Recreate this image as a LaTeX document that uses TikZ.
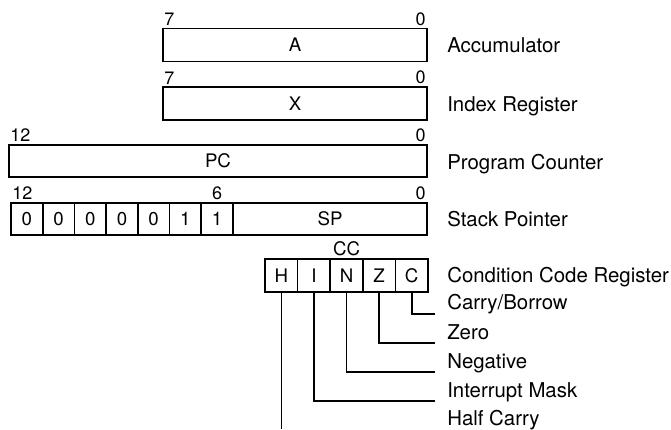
\documentclass[tikz,border=0pt]{standalone}
\usepackage{fontspec}
\setmainfont{TeX Gyre Heros}
\usepackage{tikz}

\tikzset{
  reg/.style={draw,line width=1.2pt,inner sep=0pt,minimum height=24.5pt,
    font=\fontsize{14}{14}\selectfont},
  cell/.style={reg,minimum width=23.8pt},
  bit/.style={inner sep=1.5pt,font=\fontsize{13.5}{13.5}\selectfont},
  desc/.style={anchor=base west,inner sep=0pt,font=\fontsize{15.3}{15.3}\selectfont},
  lead/.style={line width=1.2pt}
}

\begin{document}
\begin{tikzpicture}[x=0.75pt,y=-0.75pt]
  \useasboundingbox (0,0) rectangle (671,429);
  % Accumulator
  \node[reg,minimum width=198pt] (A) at (295,45) {A};
  \node[bit,anchor=south west] (A7) at (A.north west) {7};
  \node[bit,anchor=south east] (A0) at (A.north east) {0};
  \node[desc] (accu) at (447,52.5) {Accumulator};
  % Index register
  \node[reg,minimum width=198pt] (X) at (295,103.5) {X};
  \node[bit,anchor=south west] (X7) at (X.north west) {7};
  \node[bit,anchor=south east] (X0) at (X.north east) {0};
  \node[desc] (index) at (447,111.5) {Index Register};
  % Program counter
  \node[reg,minimum width=313.5pt,minimum height=24pt] (PC) at (218,161) {PC};
  \node[bit,anchor=south west] (PC12) at (PC.north west) {12};
  \node[bit,anchor=south east] (PC0) at (PC.north east) {0};
  \node[desc] (prog) at (447,169.5) {Program Counter};
  % Stack pointer, fixed upper bits
  \foreach \b [count=\i] in {0,0,0,0,0,1,1}
    \node[cell,minimum height=24pt] (s\i) at ({11+31.7*(\i-0.5)},219) {\b};
  \node[reg,minimum width=145.6pt,minimum height=24pt] (SP) at (330,219) {SP};
  \node[bit,anchor=south west] (SP12) at (s1.north west) {12};
  \node[bit,anchor=south] (SP6) at (s7.north) {6};
  \node[bit,anchor=south east] (SP0) at (SP.north east) {0};
  \node[desc] (stack) at (447,226) {Stack Pointer};
  % Condition code register
  \foreach \f [count=\i] in {H,I,N,Z,C}
    \node[cell,minimum width=24.45pt,minimum height=24.75pt] (c\f) at ({265+32.6*(\i-0.5)},275.5) {\f};
  \node[bit,anchor=south,font=\fontsize{14}{14}\selectfont] (CC) at (cN.north) {CC};
  \node[desc] (ccr) at (447,282.5) {Condition Code Register};
  % Flag names
  \node[desc] (carry) at (447,309.5) {Carry/Borrow};
  \node[desc] (zero) at (447,339.5) {Zero};
  \node[desc] (neg) at (447,368.5) {Negative};
  \node[desc] (imask) at (447,397.5) {Interrupt Mask};
  \node[desc] (half) at (447,425.5) {Half Carry};
  % Leads from the flag bits
  \coordinate (eC) at (435,314);
  \coordinate (eZ) at (435,343);
  \coordinate (eN) at (435,372);
  \coordinate (eI) at (435,401);
  \coordinate (bot) at (0,429);
  \draw[lead] (cC.south) |- (eC);
  \draw[lead] (cZ.south) |- (eZ);
  \draw[lead] (cN.south) |- (eN);
  \draw[lead] (cI.south) |- (eI);
  \draw[lead] (cH.south) -- (cH.south |- bot);
\end{tikzpicture}
\end{document}
